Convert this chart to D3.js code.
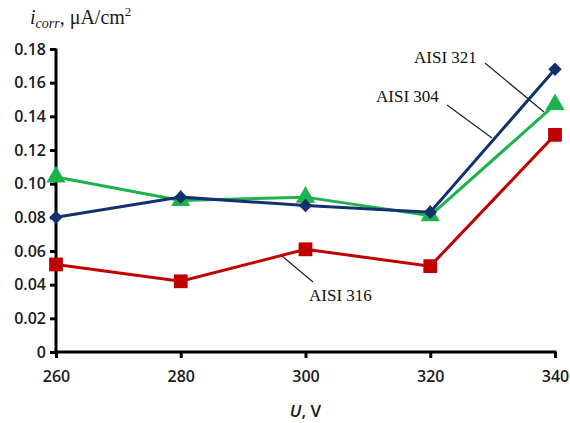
<!DOCTYPE html>
<html><head><meta charset="utf-8">
<script src="https://cdn.jsdelivr.net/npm/d3@7"></script>
<style>body{margin:0;background:#fff}</style>
</head><body>
<svg id="c" width="570" height="423"></svg>
<script>
const voltages = [260, 280, 300, 320, 340];
const aisi321 = [0.080, 0.092, 0.087, 0.083, 0.168];
const aisi304 = [0.104, 0.090, 0.092, 0.081, 0.147];
const aisi316 = [0.052, 0.042, 0.061, 0.051, 0.129];
const yTicks = [0, 0.02, 0.04, 0.06, 0.08, 0.10, 0.12, 0.14, 0.16, 0.18];
const xTicks = [260, 280, 300, 320, 340];

const svg = d3.select("#c");
const x = d3.scaleLinear().domain([260, 340]).range([56, 555]);
const y = d3.scaleLinear().domain([0, 0.18]).range([352, 49]);

const tickFont = "'Open Sans', 'Liberation Sans', sans-serif";
// y axis
const ya = svg.append("g").attr("transform", "translate(56,0)")
  .call(d3.axisLeft(y).tickValues(yTicks).tickSize(6).tickPadding(4)
    .tickFormat(d => d === 0 ? "0" : d3.format(".2f")(d)));
ya.select(".domain").attr("stroke", "#000").attr("stroke-width", 3).attr("d", "M0,48.5V353.5");
ya.selectAll(".tick line").attr("stroke", "#000").attr("stroke-width", 3);
ya.selectAll("text").attr("font-family", tickFont).attr("font-size", 16).attr("font-weight", 600).attr("fill", "#1a1a1a");

// x axis
const xa = svg.append("g").attr("transform", "translate(0,352)")
  .call(d3.axisBottom(x).tickValues(xTicks).tickSize(6).tickPadding(13).tickFormat(d3.format("d")));
xa.select(".domain").attr("stroke", "#000").attr("stroke-width", 3).attr("d", "M54.5,0H556.5");
xa.selectAll(".tick line").attr("stroke", "#000").attr("stroke-width", 3);
xa.selectAll("text").attr("font-family", tickFont).attr("font-size", 16).attr("font-weight", 600).attr("fill", "#1a1a1a");

// axis titles
const xt = svg.append("text").attr("x", x(300)).attr("y", 417).attr("text-anchor", "middle")
  .attr("font-family", tickFont).attr("font-size", 17).attr("font-weight", 600).attr("fill", "#1a1a1a");
xt.append("tspan").attr("font-style", "italic").text("U");
xt.append("tspan").text(", V");

const yt = svg.append("text").attr("x", 30).attr("y", 24)
  .attr("font-family", "'Liberation Serif', 'DejaVu Serif', serif").attr("font-size", 20).attr("fill", "#1a1a1a");
yt.append("tspan").attr("font-style", "italic").text("i");
yt.append("tspan").attr("font-style", "italic").attr("font-size", 14).attr("dy", 4).text("corr");
yt.append("tspan").attr("dy", -4).text(", μA/cm");
yt.append("tspan").attr("font-size", 13).attr("dy", -8).text("2");

// leader lines + labels
const serif = "'Liberation Serif', 'DejaVu Serif', serif";
const leaders = [
  {x1: 485, y1: 63, x2: 544, y2: 112},
  {x1: 447, y1: 105, x2: 492, y2: 138},
  {x1: 282, y1: 256, x2: 313, y2: 282}
];
leaders.forEach(l => svg.append("line").attr("x1", l.x1).attr("y1", l.y1).attr("x2", l.x2).attr("y2", l.y2)
  .attr("stroke", "#222").attr("stroke-width", 1.2));
[{t: "AISI 321", x: 414, y: 63}, {t: "AISI 304", x: 376, y: 102}, {t: "AISI 316", x: 309, y: 301}]
  .forEach(a => svg.append("text").attr("x", a.x).attr("y", a.y).attr("font-family", serif)
    .attr("font-size", 17).attr("fill", "#111").text(a.t));

const series = [
  {vals: aisi316, color: "#c00000", sym: d3.symbolSquare, size: 190, rot: 0},
  {vals: aisi304, color: "#1db34c", sym: d3.symbolTriangle, size: 160, rot: 0},
  {vals: aisi321, color: "#13306f", sym: d3.symbolSquare, size: 90, rot: 45}
];
const line = d3.line().x((d, i) => x(voltages[i])).y(d => y(d));
series.forEach(s => {
  svg.append("path").attr("d", line(s.vals)).attr("fill", "none")
    .attr("stroke", s.color).attr("stroke-width", 3);
  svg.selectAll(null).data(s.vals).enter().append("path")
    .attr("transform", (d, i) => `translate(${x(voltages[i])},${y(d)}) rotate(${s.rot})`)
    .attr("d", d3.symbol().type(s.sym).size(s.size)).attr("fill", s.color);
});
</script>
</body></html>
